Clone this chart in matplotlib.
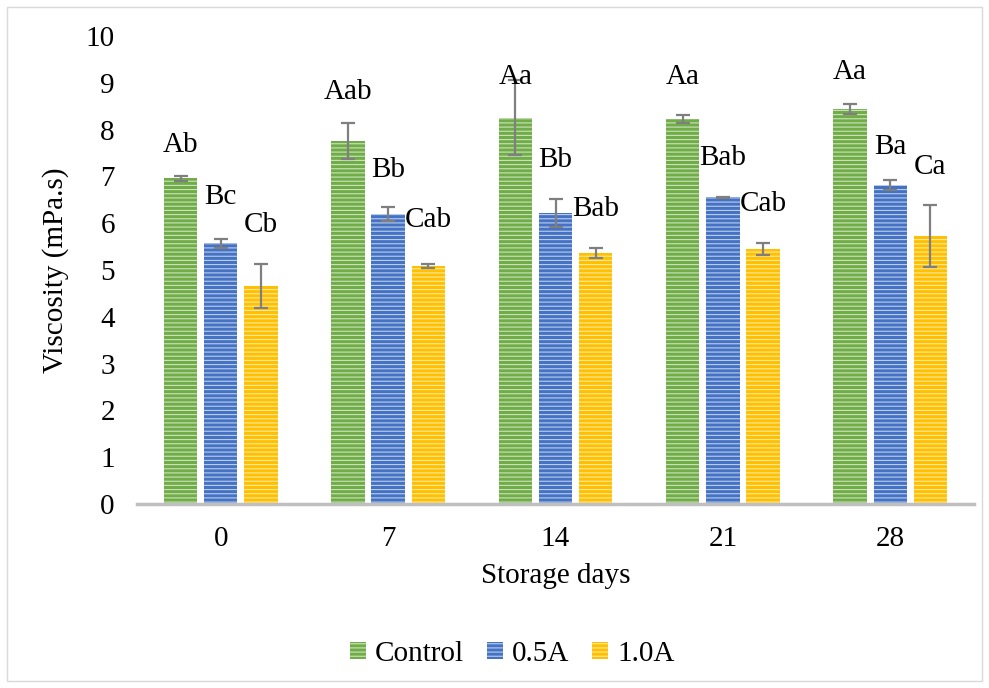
import numpy as np
import matplotlib
matplotlib.use('Agg')
import matplotlib.pyplot as plt
from matplotlib.patches import Patch, Rectangle

days = ['0', '7', '14', '21', '28']
series = ['Control', '0.5A', '1.0A']

control = [6.96, 7.76, 8.25, 8.23, 8.44]
half_a = [5.57, 6.20, 6.22, 6.55, 6.82]
one_a = [4.66, 5.09, 5.36, 5.45, 5.73]

control_err = [0.05, 0.38, 0.80, 0.09, 0.11]
half_a_err = [0.10, 0.15, 0.30, 0.02, 0.11]
one_a_err = [0.47, 0.04, 0.10, 0.12, 0.66]

control_lbl = ['Ab', 'Aab', 'Aa', 'Aa', 'Aa']
half_a_lbl = ['Bc', 'Bb', 'Bb', 'Bab', 'Ba']
one_a_lbl = ['Cb', 'Cab', 'Bab', 'Cab', 'Ca']

# how far (pixels) each letter sits above its bar top
control_lift = [33, 49, 41, 42, 37]
half_a_lift = [46, 44, 53, 39, 38]
one_a_lift = [61, 46, 44, 45, 69]

colors = ['#70ad47', '#4472c4', '#ffc000']
serif = ['Liberation Serif', 'DejaVu Serif']
fs = 21
stripe = (1, 1, 1, 0.65)

plt.rcParams['font.family'] = serif
plt.rcParams['hatch.linewidth'] = 0.8

fig = plt.figure(figsize=(9.89, 6.88), dpi=100)
fig.patches.append(Rectangle((7/989, 7/688), 975/989, 674/688, transform=fig.transFigure,
                             fill=False, edgecolor='#d9d9d9', linewidth=1))
ax = fig.add_axes([137/989, 1 - 504/688, 837/989, 468/688])

x = np.arange(len(days))
w = 0.2
step = 0.24
vals = [control, half_a, one_a]
errs = [control_err, half_a_err, one_a_err]
lbls = [control_lbl, half_a_lbl, one_a_lbl]
lifts = [control_lift, half_a_lift, one_a_lift]

for i in range(3):
    pos = x + (i - 1) * step
    ax.bar(pos, vals[i], w, color=colors[i], edgecolor=stripe, linewidth=0,
           hatch='----', zorder=2)
    ax.errorbar(pos, vals[i], yerr=errs[i], fmt='none', ecolor='#7f7f7f',
                elinewidth=1.6, capsize=5, capthick=1.6, zorder=3)
    for p, v, t, l in zip(pos, vals[i], lbls[i], lifts[i]):
        ax.annotate(t, (p, v), xytext=(0, l), textcoords='offset pixels',
                    ha='center', va='center', fontsize=fs)

ax.set_xlim(-0.5, len(days) - 0.5)
ax.set_ylim(0, 10)
ax.set_yticks(range(0, 11))
ax.set_xticks(x)
ax.set_xticklabels(days)
ax.tick_params(axis='both', length=0, labelsize=fs)
ax.tick_params(axis='y', pad=16)
ax.tick_params(axis='x', pad=16)
for s in ['top', 'right', 'left']:
    ax.spines[s].set_visible(False)
ax.spines['bottom'].set_color('#bfbfbf')
ax.spines['bottom'].set_linewidth(2.5)
ax.spines['bottom'].set_zorder(4)

ax.set_xlabel('Storage days', fontsize=fs, labelpad=8)
ax.set_ylabel('Viscosity (mPa.s)', fontsize=fs, labelpad=12)

handles = [Patch(facecolor=c, edgecolor=stripe, linewidth=0, hatch='----') for c in colors]
fig.legend(handles, series, loc='center', bbox_to_anchor=(512/989, 1 - 654/688), ncol=3,
           frameon=False, fontsize=fs, handlelength=0.55, handleheight=0.55,
           handletextpad=0.3, columnspacing=0.8)

fig.savefig('out.png', dpi=100)
